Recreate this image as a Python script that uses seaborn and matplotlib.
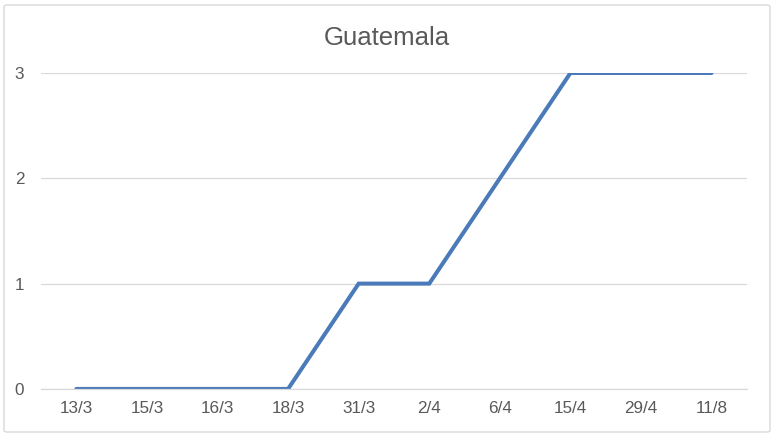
import pandas as pd
import matplotlib
matplotlib.use("Agg")
import matplotlib.pyplot as plt
import seaborn as sns
from matplotlib.patches import FancyBboxPatch

fechas = ["13/3", "15/3", "16/3", "18/3", "31/3", "2/4", "6/4", "15/4", "29/4", "11/8"]
casos = [0, 0, 0, 0, 1, 1, 2, 3, 3, 3]

df = pd.DataFrame({"fecha": fechas, "casos": casos})
df["pos"] = range(len(fechas))

sns.set_style("white")
plt.rcParams["font.family"] = ["Liberation Sans", "DejaVu Sans"]

gris_texto = "#595959"
gris_linea = "#d9d9d9"

fig = plt.figure(figsize=(7.74, 4.37), dpi=100)
ax = fig.add_axes([0.053, 0.110, 0.912, 0.723])

sns.lineplot(data=df, x="pos", y="casos", color="#4a7ab8", linewidth=2.9,
             solid_capstyle="round", solid_joinstyle="miter", ax=ax)

ax.set_xlim(-0.5, len(fechas) - 0.5)
ax.set_ylim(0, 3)
ax.set_xticks(range(len(fechas)))
ax.set_xticklabels(fechas)
ax.set_yticks([0, 1, 2, 3])
ax.set_xlabel("")
ax.set_ylabel("")

ax.grid(axis="y", color=gris_linea, linewidth=0.9)
ax.set_axisbelow(True)
for lado in ["top", "right", "left"]:
    ax.spines[lado].set_visible(False)
ax.spines["bottom"].set_color(gris_linea)
ax.spines["bottom"].set_linewidth(0.9)
ax.tick_params(axis="both", length=0, labelsize=12.3, colors=gris_texto)
ax.tick_params(axis="x", pad=9)
ax.tick_params(axis="y", pad=12)

fig.text(0.5, 1 - 45 / 437, "Guatemala", ha="center", va="baseline",
         fontsize=18.5, color=gris_texto)

borde = FancyBboxPatch((4 / 774, 5 / 437), 766 / 774, 427 / 437,
                       boxstyle="round,pad=0,rounding_size=0.004",
                       transform=fig.transFigure, fill=False,
                       edgecolor=gris_linea, linewidth=1.0)
fig.patches.append(borde)

fig.savefig("out.png", dpi=100)
